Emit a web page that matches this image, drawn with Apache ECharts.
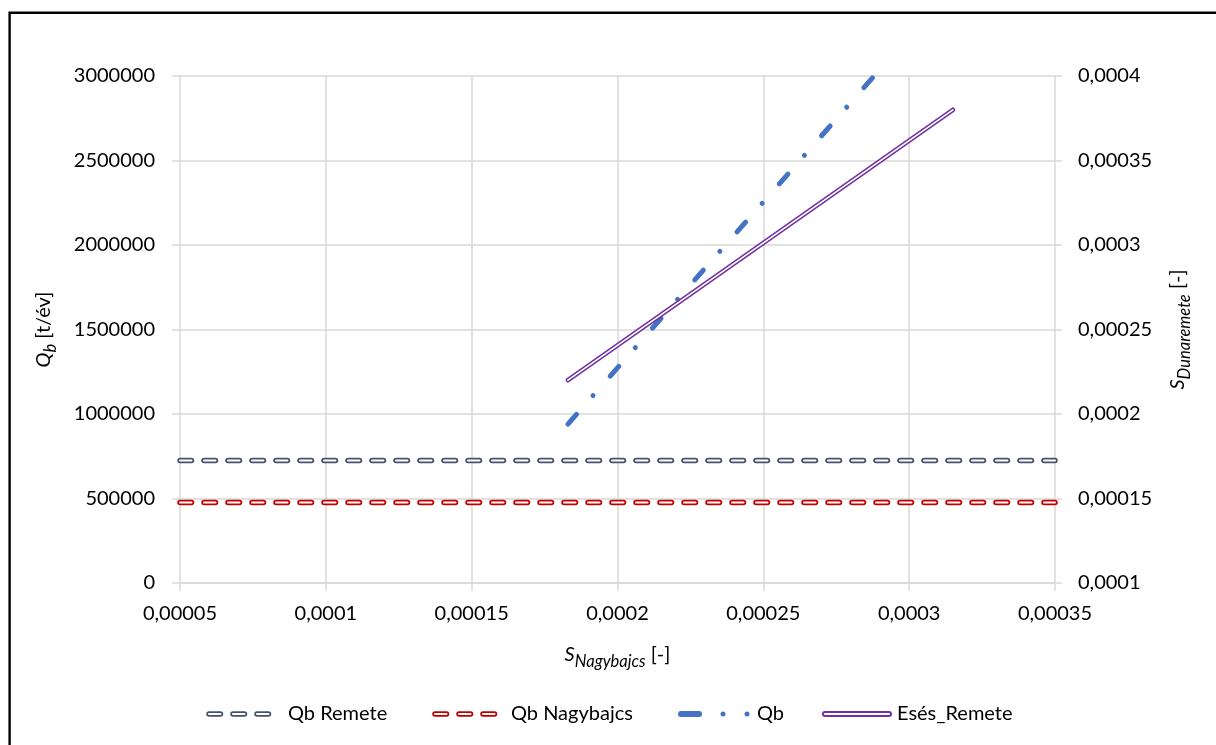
<!DOCTYPE html>
<html>
<head>
<meta charset="utf-8">
<script src="https://cdn.jsdelivr.net/npm/echarts@6/dist/echarts.min.js"></script>
<style>
html,body{margin:0;padding:0;background:#fff;}
#chart{width:1216px;height:745px;}
</style>
</head>
<body>
<div id="chart"></div>
<script>
// ---- data ----
var xTicks = [0.00005, 0.0001, 0.00015, 0.0002, 0.00025, 0.0003, 0.00035];
var yLeftTicks = [0, 500000, 1000000, 1500000, 2000000, 2500000, 3000000];
var yRightTicks = [0.0001, 0.00015, 0.0002, 0.00025, 0.0003, 0.00035, 0.0004];

var qbRemeteX = [0.00005, 0.00035];
var qbRemeteY = [725000, 725000];
var qbNagybajcsX = [0.00005, 0.00035];
var qbNagybajcsY = [476000, 476000];
var qbX = [0.000183, 0.000288];
var qbY = [940000, 3000000];
var esesX = [0.000183, 0.000315];
var esesY = [0.00022, 0.00038];

var names = ['Qb Remete', 'Qb Nagybajcs', 'Qb', 'Esés_Remete'];

function pairs(xs, ys) { return xs.map(function (x, i) { return [x, ys[i]]; }); }
function fmtDec(v) { return String(+(+v).toPrecision(6)).replace('.', ','); }

var FONT = 'Lato';
var C_REM = '#44546A', C_NAGY = '#C00000', C_QB = '#4472C4', C_ESES = '#7030A0';

function svgIcon(w, body) {
  var s = "<svg xmlns='http://www.w3.org/2000/svg' width='" + w + "' height='12' viewBox='0 0 " + w + " 12'>" + body + "</svg>";
  return 'image://data:image/svg+xml;charset=utf-8,' + encodeURIComponent(s);
}
function dblDash(color, end) {
  return "<g fill='none' stroke-linecap='round' stroke-dasharray='11.5 12.5'>" +
    "<path d='M3 6H" + end + "' stroke='" + color + "' stroke-width='5.5'/>" +
    "<path d='M3 6H" + end + "' stroke='#ffffff' stroke-width='2'/></g>";
}
var iconRem = svgIcon(77, dblDash(C_REM, 64));
var iconNagy = svgIcon(74, dblDash(C_NAGY, 64));
var iconQb = svgIcon(74, "<path d='M3 6H21' stroke='" + C_QB + "' stroke-width='6' stroke-linecap='round'/>" +
  "<circle cx='45' cy='6' r='2.5' fill='" + C_QB + "'/><circle cx='69' cy='6' r='2.5' fill='" + C_QB + "'/>");
var iconEses = svgIcon(70, "<g fill='none' stroke-linecap='round'><path d='M3 6H67' stroke='" + C_ESES + "' stroke-width='6'/>" +
  "<path d='M3 6H67' stroke='#ffffff' stroke-width='2'/></g>");

var richTitle = {
  i: { fontFamily: FONT, fontSize: 20, fontStyle: 'italic', lineHeight: 30, color: '#000' },
  s: { fontFamily: FONT, fontSize: 16.5, fontStyle: 'italic', lineHeight: 16, verticalAlign: 'bottom', color: '#000' },
  n: { fontFamily: FONT, fontSize: 20, lineHeight: 30, color: '#000' }
};

var gridColor = '#d9d9d9';
var labelStyle = { fontFamily: FONT, fontSize: 20, color: '#000' };

function legendFor(name, left, w, icon) {
  return {
    left: left, top: 702, padding: 0, itemWidth: w, itemHeight: 12, itemGap: 0,
    selectedMode: false,
    data: [{ name: name, icon: icon }],
    textStyle: { fontFamily: FONT, fontSize: 20, color: '#000', lineHeight: 24 }
  };
}

var chart = echarts.init(document.getElementById('chart'), null, { renderer: 'canvas' });
var option = {
  backgroundColor: '#fff',
  animation: false,
  graphic: [{
    type: 'rect', z: -10, silent: true,
    shape: { x: 9.6, y: 12.8, width: 1400, height: 1000 },
    style: { fill: 'none', stroke: '#000', lineWidth: 2.4 }
  }],
  grid: { left: 180, right: 161, top: 76, bottom: 162, containLabel: false, outerBoundsMode: 'none' },
  legend: [
    legendFor(names[0], 206, 77, iconRem),
    legendFor(names[1], 432, 74, iconNagy),
    legendFor(names[2], 678, 74, iconQb),
    legendFor(names[3], 822, 70, iconEses)
  ],
  xAxis: {
    type: 'value',
    min: xTicks[0], max: xTicks[xTicks.length - 1], interval: xTicks[1] - xTicks[0],
    name: '{i|S}{s|Nagybajcs}{n| [-]}',
    nameLocation: 'middle', nameGap: 57,
    nameTextStyle: { rich: richTitle },
    axisLine: { show: true, lineStyle: { color: gridColor, width: 1.5 } },
    axisTick: { show: true, inside: false, length: 8, lineStyle: { color: gridColor, width: 1.5 } },
    splitLine: { show: true, lineStyle: { color: gridColor, width: 1.5 } },
    axisLabel: Object.assign({ margin: 21, formatter: fmtDec, showMinLabel: true, showMaxLabel: true }, labelStyle)
  },
  yAxis: [{
    type: 'value', position: 'left',
    min: yLeftTicks[0], max: yLeftTicks[yLeftTicks.length - 1], interval: yLeftTicks[1] - yLeftTicks[0],
    name: '{i|Q}{s|b}{n| [t/év]}',
    nameLocation: 'middle', nameRotate: 90, nameGap: 121,
    nameTextStyle: { rich: richTitle },
    axisLine: { show: false },
    axisTick: { show: true, inside: false, length: 8, lineStyle: { color: gridColor, width: 1.5 } },
    splitLine: { show: true, lineStyle: { color: gridColor, width: 1.5 } },
    axisLabel: Object.assign({ margin: 25, formatter: function (v) { return String(v); } }, labelStyle)
  }, {
    type: 'value', position: 'right',
    min: yRightTicks[0], max: yRightTicks[yRightTicks.length - 1], interval: 0.00005,
    name: '{i|S}{s|Dunaremete}{n| [-]}',
    nameLocation: 'middle', nameRotate: 90, nameGap: 108,
    nameTextStyle: { rich: richTitle },
    axisLine: { show: false },
    axisTick: { show: true, inside: false, length: 7, lineStyle: { color: gridColor, width: 1.5 } },
    splitLine: { show: false },
    axisLabel: Object.assign({ margin: 23, formatter: fmtDec }, labelStyle)
  }],
  series: [
    { name: names[0], type: 'line', data: pairs(qbRemeteX, qbRemeteY), symbol: 'none', z: 2,
      lineStyle: { color: C_REM, width: 5.5, type: [11.5, 12.5], cap: 'round' }, itemStyle: { color: C_REM } },
    { name: names[0], type: 'line', data: pairs(qbRemeteX, qbRemeteY), symbol: 'none', z: 3,
      lineStyle: { color: '#ffffff', width: 2, type: [11.5, 12.5], cap: 'round' }, itemStyle: { color: C_REM } },
    { name: names[1], type: 'line', data: pairs(qbNagybajcsX, qbNagybajcsY), symbol: 'none', z: 2,
      lineStyle: { color: C_NAGY, width: 5.5, type: [11.5, 12.5], cap: 'round' }, itemStyle: { color: C_NAGY } },
    { name: names[1], type: 'line', data: pairs(qbNagybajcsX, qbNagybajcsY), symbol: 'none', z: 3,
      lineStyle: { color: '#ffffff', width: 2, type: [11.5, 12.5], cap: 'round' }, itemStyle: { color: C_NAGY } },
    { name: names[2], type: 'line', data: pairs(qbX, qbY), symbol: 'none', z: 4,
      lineStyle: { color: C_QB, width: 5, type: [13, 25, 0.01, 26], cap: 'round' }, itemStyle: { color: C_QB } },
    { name: names[3], type: 'line', yAxisIndex: 1, data: pairs(esesX, esesY), symbol: 'none', z: 5,
      lineStyle: { color: C_ESES, width: 4.6, cap: 'round' }, itemStyle: { color: C_ESES } },
    { name: names[3], type: 'line', yAxisIndex: 1, data: pairs(esesX, esesY), symbol: 'none', z: 6,
      lineStyle: { color: '#ffffff', width: 1.6, cap: 'round' }, itemStyle: { color: C_ESES } }
  ]
};
chart.setOption(option);
</script>
</body>
</html>
